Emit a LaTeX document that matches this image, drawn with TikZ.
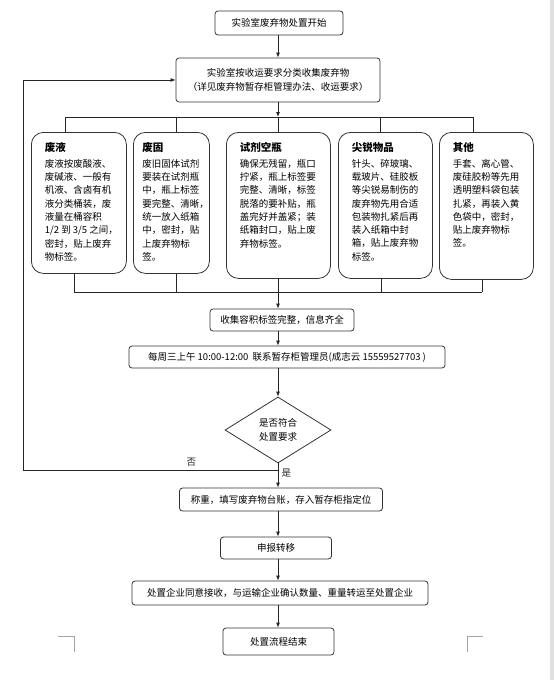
\documentclass[tikz,border=0pt]{standalone}
\usepackage{fontspec}
\setmainfont{Noto Sans CJK SC}
\usetikzlibrary{shapes.geometric,arrows.meta}

\newcommand*{\cattext}[3]{\parbox[c][#1pt][t]{#2pt}{\raggedright #3}}
\newcommand*{\cathead}[1]{{\bfseries\fontsize{10.5}{14}\selectfont #1}}

\begin{document}
\begin{tikzpicture}
[
	x=1pt, y=-1pt,
	font=\fontsize{9.5}{13.3}\selectfont,
	flowbox/.style={draw=black!80,rounded corners=3,line width=0.8pt,inner sep=2pt,align=center},
	catbox/.style={draw=black!80,rounded corners=12,line width=0.8pt,inner sep=0pt,anchor=north west},
	decision/.style={diamond,draw=black!80,line width=0.8pt,inner sep=0pt,align=center},
	link/.style={line width=0.8pt,black!85},
	arrow/.style={link,-{Latex[length=5pt,width=4pt]}}
]

	\useasboundingbox (0,0) rectangle (554,680);

	% page edge and corner marks
	\fill[black!12] (550,0) rectangle (554,680);
	\draw[black!35] (58,636) -- (74,636) -- (74,652);
	\draw[black!35] (467,652) -- (467,636) -- (483,636);

	% main flow
	\coordinate (axis) at (278,0);
	\node[flowbox,minimum width=128,minimum height=24] (start) at (279,23) {实验室废弃物处置开始};
	\node[flowbox,minimum width=204,minimum height=44] (collect) at (278,80)
		{实验室按收运要求分类收集废弃物\\（详见废弃物暂存柜管理办法、收运要求）};

	% waste categories
	\node[catbox,minimum width=95,minimum height=141] (b1) at (31,132) {\cattext{121}{68}{%
		\cathead{废液}\\[2.5pt]
		废液按废酸液、\\废碱液、一般有\\机液、含卤有机\\液分类桶装，废\\液量在桶容积\\
		\mbox{1/2~到~3/5~之间，}\\密封，贴上废弃\\物标签。}};
	\node[catbox,minimum width=76,minimum height=141] (b2) at (133,132) {\cattext{121}{58}{%
		\cathead{废固}\\[2.5pt]
		废旧固体试剂\\要装在试剂瓶\\中，瓶上标签\\要完整、清晰，\\统一放入纸箱\\中，密封，贴\\上废弃物标\\签。}};
	\node[catbox,minimum width=104,minimum height=146] (b3) at (226,132) {\cattext{126}{77}{%
		\cathead{试剂空瓶}\\[2.5pt]
		确保无残留，瓶口\\拧紧，瓶上标签要\\完整、清晰，标签\\脱落的要补贴，瓶\\盖完好并盖紧；装\\纸箱封口，贴上废\\弃物标签。}};
	\node[catbox,minimum width=94,minimum height=146] (b4) at (338,132) {\cattext{126}{67}{%
		\cathead{尖锐物品}\\[2.5pt]
		针头、碎玻璃、\\载玻片、硅胶板\\等尖锐易制伤的\\废弃物先用合适\\包装物扎紧后再\\装入纸箱中封\\箱，贴上废弃物\\标签。}};
	\node[catbox,minimum width=94,minimum height=147] (b5) at (439,132) {\cattext{127}{67}{%
		\cathead{其他}\\[2.5pt]
		手套、离心管、\\废硅胶粉等先用\\透明塑料袋包装\\扎紧，再装入黄\\色袋中，密封，\\贴上废弃物标\\签。}};

	% branch out to categories
	\foreach \i/\x in {1/65,2/176,3/278,4/380,5/473} {
		\coordinate (t\i) at (\x,117);
		\draw[link] (t\i) -- (t\i |- b\i.north);
	}
	\draw[link] (t1) -- (t5);
	\draw[arrow] (start.south -| axis) -- (collect.north -| axis);
	\draw[arrow] (collect.south -| axis) -- (t3);

	% join back
	\foreach \i/\x in {1/74,2/176,3/278,4/381,5/482} {
		\coordinate (u\i) at (\x,292);
		\draw[link] (u\i |- b\i.south) -- (u\i);
	}
	\draw[link] (u1) -- (u5);

	\node[flowbox,minimum width=144,minimum height=22] (check) at (282,320) {收集容积标签完整，信息齐全};
	\node[flowbox,minimum width=316,minimum height=22] (contact) at (287,357)
		{每周三上午 10:00-12:00\ \ 联系暂存柜管理员(成志云 15559527703 )};
	\node[decision,minimum width=106,minimum height=66] (judge) at (278,430) {是否符合\\处置要求};
	\node[flowbox,minimum width=203,minimum height=23] (weigh) at (281,499.5) {称重，填写废弃物台账，存入暂存柜指定位};
	\node[flowbox,minimum width=111,minimum height=22] (report) at (276,548) {申报转移};
	\node[flowbox,minimum width=296,minimum height=24] (dispose) at (280,593)
		{处置企业同意接收，与运输企业确认数量、重量转运至处置企业};
	\node[flowbox,minimum width=111,minimum height=27] (finish) at (278.5,641.5) {处置流程结束};

	\draw[arrow] (u3) -- (check.north -| u3);
	\draw[arrow] (check.south -| axis) -- (contact.north -| axis);
	\draw[arrow] (contact.south -| axis) -- (judge.north);

	% decision
	\coordinate (split) at (278,470);
	\coordinate (loop) at (23,470);
	\draw[arrow] (judge.south) -- (weigh.north -| judge) node[pos=0.4,right] {是};
	\draw[arrow] (split) -- (loop) node[pos=0.34,above] {否} |- (collect.west);

	\draw[arrow] (weigh.south -| axis) -- (report.north -| axis);
	\draw[arrow] (report.south -| axis) -- (dispose.north -| axis);
	\draw[arrow] (dispose.south -| axis) -- (finish.north -| axis);

\end{tikzpicture}
\end{document}
